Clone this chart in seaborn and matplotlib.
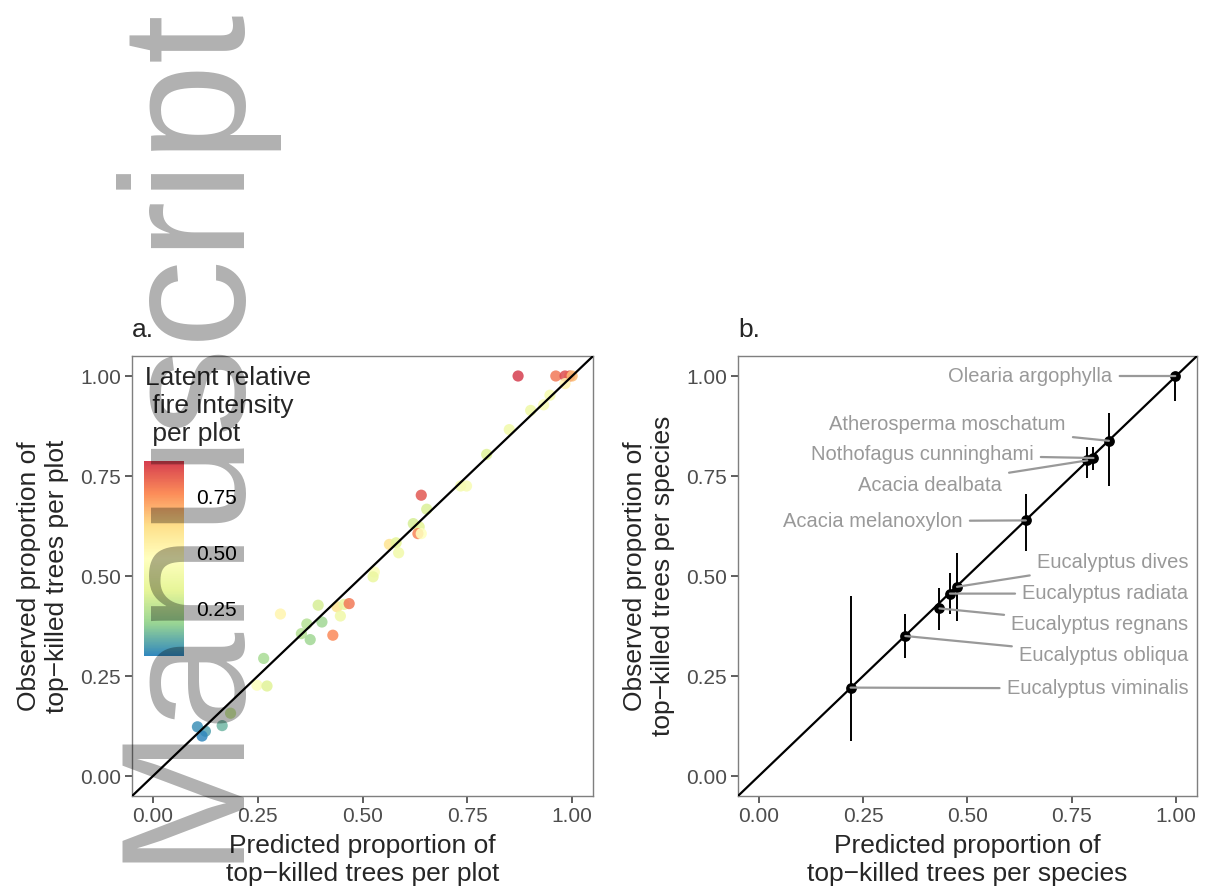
import numpy as np
import pandas as pd
import matplotlib
import matplotlib.pyplot as plt
from matplotlib.colors import LinearSegmentedColormap
import seaborn as sns

# ---- panel a: per plot ----
pred_plot = [0.871, 0.961, 0.983, 0.994, 1.000, 0.983, 0.947, 0.932, 0.901, 0.850,
             0.796, 0.734, 0.748, 0.640, 0.653, 0.621, 0.635, 0.632, 0.640, 0.564,
             0.580, 0.586, 0.528, 0.525, 0.394, 0.439, 0.456, 0.468, 0.447, 0.304,
             0.367, 0.403, 0.354, 0.375, 0.429, 0.264, 0.248, 0.272, 0.185, 0.165,
             0.106, 0.125, 0.117]
obs_plot = [1.000, 1.000, 1.000, 1.000, 1.000, 0.981, 0.952, 0.928, 0.914, 0.866,
            0.804, 0.725, 0.725, 0.702, 0.667, 0.631, 0.623, 0.606, 0.606, 0.579,
            0.583, 0.558, 0.510, 0.498, 0.427, 0.423, 0.429, 0.431, 0.400, 0.405,
            0.380, 0.385, 0.356, 0.341, 0.352, 0.294, 0.227, 0.225, 0.157, 0.126,
            0.123, 0.112, 0.100]
intensity = [0.91, 0.80, 0.88, 0.85, 0.68, 0.52, 0.42, 0.44, 0.38, 0.40,
             0.32, 0.42, 0.43, 0.86, 0.31, 0.30, 0.33, 0.78, 0.47, 0.60,
             0.33, 0.40, 0.45, 0.36, 0.30, 0.60, 0.36, 0.80, 0.39, 0.52,
             0.24, 0.20, 0.24, 0.20, 0.77, 0.22, 0.46, 0.32, 0.28, 0.13,
             0.06, 0.09, 0.04]

# ---- panel b: per species ----
species = ["Olearia argophylla", "Atherosperma moschatum", "Nothofagus cunninghami",
           "Acacia dealbata", "Acacia melanoxylon", "Eucalyptus dives",
           "Eucalyptus radiata", "Eucalyptus regnans", "Eucalyptus obliqua",
           "Eucalyptus viminalis"]
pred_sp = [0.998, 0.839, 0.802, 0.787, 0.640, 0.475, 0.458, 0.433, 0.351, 0.220]
obs_sp = [1.000, 0.838, 0.795, 0.789, 0.639, 0.473, 0.456, 0.419, 0.350, 0.221]
obs_lo = [0.937, 0.724, 0.766, 0.746, 0.563, 0.388, 0.406, 0.365, 0.296, 0.088]
obs_hi = [1.000, 0.908, 0.823, 0.823, 0.706, 0.558, 0.508, 0.471, 0.404, 0.450]

sns.set_theme(style="white")
plt.rcParams["font.family"] = ["Liberation Sans", "DejaVu Sans"]

GREY_TXT = "#4D4D4D"
LAB = "#999999"
# 7-class brewer Spectral, low -> high
spectral = LinearSegmentedColormap.from_list(
    "spec7", ["#3288BD", "#99D594", "#E6F598", "#FFFFBF", "#FEE08B", "#FC8D59", "#D53E4F"])


def style_axes(ax, xlabel, ylabel, title):
    ax.set_xlim(-0.05, 1.05)
    ax.set_ylim(-0.05, 1.05)
    ticks = [0, 0.25, 0.5, 0.75, 1.0]
    ax.set_xticks(ticks)
    ax.set_yticks(ticks)
    ax.set_xticklabels(["0.00", "0.25", "0.50", "0.75", "1.00"])
    ax.set_yticklabels(["0.00", "0.25", "0.50", "0.75", "1.00"])
    ax.tick_params(length=5, width=1.1, color="#333333", labelsize=15,
                   labelcolor=GREY_TXT, pad=3, bottom=True, left=True)
    for s in ax.spines.values():
        s.set_color("#7F7F7F")
        s.set_linewidth(1.0)
    ax.set_xlabel(xlabel, fontsize=19, labelpad=6)
    ax.set_ylabel(ylabel, fontsize=19, labelpad=8)
    ax.set_title(title, loc="left", fontsize=19, pad=14)
    ax.axline((0, 0), (1, 1), color="black", lw=1.6, zorder=3)


fig = plt.figure(figsize=(12.06, 8.90), dpi=100)
ax1 = fig.add_axes([0.1095, 0.1056, 0.3823, 0.4944])
ax2 = fig.add_axes([0.6119, 0.1056, 0.3806, 0.4944])

# panel a
df_plot = pd.DataFrame({"pred": pred_plot, "obs": obs_plot, "fire": intensity})
vmin, vmax = min(intensity), max(intensity)
sns.scatterplot(data=df_plot, x="pred", y="obs", hue="fire", palette=spectral,
                hue_norm=(vmin, vmax), s=65, linewidth=0, alpha=0.85,
                legend=False, ax=ax1, zorder=2)
style_axes(ax1, "Predicted proportion of\ntop\u2212killed trees per plot",
           "Observed proportion of\ntop\u2212killed trees per plot", "a.")

cax = fig.add_axes([144 / 1206, 1 - 656 / 890, 40 / 1206, 195 / 890])
sm = matplotlib.cm.ScalarMappable(norm=plt.Normalize(vmin, vmax), cmap=spectral)
cb = fig.colorbar(sm, cax=cax, ticks=[0.25, 0.5, 0.75])
cb.outline.set_visible(False)
cb.ax.set_yticklabels(["0.25", "0.50", "0.75"])
cb.ax.tick_params(direction="in", color="white", length=5, width=1, left=True,
                  right=True, labelsize=15, labelcolor="black", pad=9)
fig.text(145 / 1206, 1 - 366 / 890, "Latent relative\n fire intensity\n per plot",
         fontsize=19, va="top", ha="left", linespacing=1.2)

# panel b
df_sp = pd.DataFrame({"species": species, "pred": pred_sp, "obs": obs_sp,
                      "lo": obs_lo, "hi": obs_hi})
ax2.vlines(df_sp["pred"], df_sp["lo"], df_sp["hi"], color="black", lw=1.4, zorder=2)
sns.scatterplot(data=df_sp, x="pred", y="obs", color="black", s=60,
                linewidth=0, ax=ax2, zorder=4)
style_axes(ax2, "Predicted proportion of\ntop\u2212killed trees per species",
           "Observed proportion of\ntop\u2212killed trees per species", "b.")

# label placement (right edge of text, centre y)
label_pos = [(0.847, 1.000), (0.735, 0.879), (0.658, 0.803), (0.582, 0.727),
             (0.488, 0.637), (1.030, 0.534), (1.030, 0.456), (1.030, 0.379),
             (1.030, 0.302), (1.030, 0.219)]
for name, x, y, (lx, ly) in zip(species, pred_sp, obs_sp, label_pos):
    ax2.annotate(name, xy=(x, y), xytext=(lx, ly), ha="right", va="center",
                 fontsize=14.5, color=LAB, zorder=5,
                 arrowprops=dict(arrowstyle="-", color=LAB, lw=1.6,
                                 shrinkA=3, shrinkB=0))

# watermark
fig.text(231 / 1206, 1 - 862 / 890, "Manuscript", rotation=90, rotation_mode="anchor",
         ha="left", va="baseline", fontsize=127, color="black", alpha=0.31,
         zorder=10)

fig.savefig("out.png", dpi=100)
